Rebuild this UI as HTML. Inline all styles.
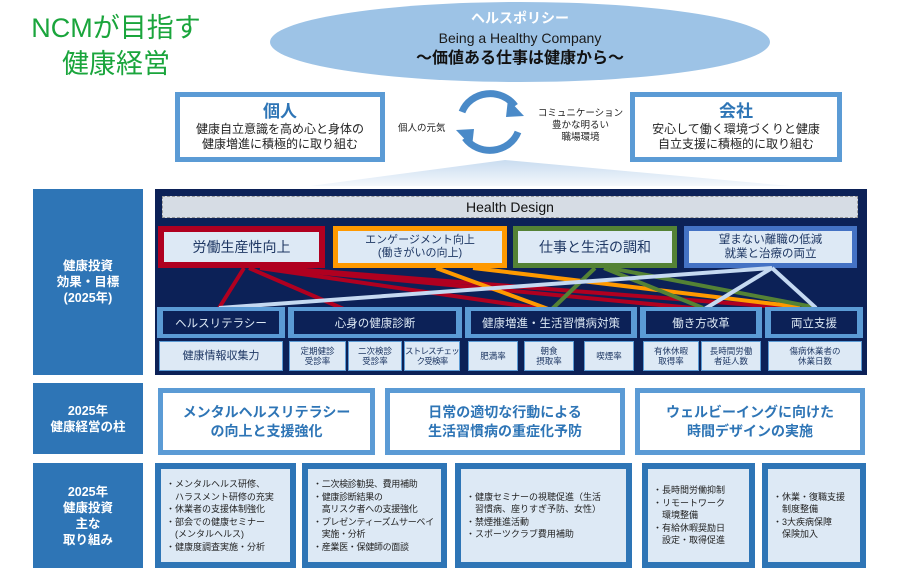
<!DOCTYPE html>
<html><head><meta charset="utf-8"><style>
*{margin:0;padding:0;box-sizing:border-box}
body{width:900px;height:573px;background:#fff;position:relative;overflow:hidden;font-family:"Liberation Sans","Noto Sans CJK JP",sans-serif}
.a{position:absolute}
.c{display:flex;align-items:center;justify-content:center;text-align:center}
.lb{background:#2e75b6;color:#fff;font-weight:bold;font-size:12.5px;line-height:16px}
.ob{background:#5b9bd5;padding:5px}
.in{background:#fff;width:100%;height:100%}
.cat{background:#5b9bd5;padding:4px 6px}
.cat div{background:#0c2157;color:#dde9f5;font-size:11.5px;width:100%;height:100%}
.m{background:#dde9f5;border:1px solid #5b9bd5;color:#1f3864;font-size:8.5px;line-height:10.5px;white-space:nowrap}
.r3{background:#2e75b6;padding:6px}
.r3 div{background:#dde9f5;width:100%;height:100%;font-size:9px;line-height:12.5px;color:#222;display:flex;flex-direction:column;justify-content:center;padding-left:5px;white-space:nowrap}
</style></head><body>
<div class="a" style="left:16px;top:10px;color:#1aa53c;font-size:27px;line-height:36px;width:200px;text-align:center">NCMが目指す<br>健康経営</div>
<svg class="a" style="left:0;top:0" width="900" height="573">
<defs><linearGradient id="g" x1="0" y1="0" x2="0" y2="1"><stop offset="0" stop-color="#c9dcf0"/><stop offset="1" stop-color="#f4f8fc"/></linearGradient></defs>
<ellipse cx="520" cy="42" rx="250" ry="40" fill="#9dc3e6"/>
<polygon points="505,160 310,186 790,186" fill="url(#g)"/>
<path d="M462,112 A30,28 0 0 1 515,106" fill="none" stroke="#4a8ac8" stroke-width="7"/>
<polygon points="508,99 524,116 506,117" fill="#4a8ac8"/>
<path d="M518,132 A30,28 0 0 1 465,138" fill="none" stroke="#4a8ac8" stroke-width="7"/>
<polygon points="472,147 456,130 474,129" fill="#4a8ac8"/>
</svg>
<div class="a c" style="left:270px;top:8px;width:500px;flex-direction:column;color:#fff">
<div style="font-size:14px;font-weight:bold;line-height:20px">ヘルスポリシー</div>
<div style="font-size:14px;color:#1a1a1a;line-height:20px">Being a Healthy Company</div>
<div style="font-size:16px;font-weight:bold;color:#111;line-height:22px">～価値ある仕事は健康から～</div></div>
<div class="a ob" style="left:175px;top:92px;width:210px;height:70px"><div class="in c" style="flex-direction:column;font-size:12px;line-height:15px;color:#222"><div style="color:#2e75b6;font-size:17px;font-weight:bold;line-height:20px">個人</div>健康自立意識を高め心と身体の<br>健康増進に積極的に取り組む</div></div>
<div class="a ob" style="left:630px;top:92px;width:212px;height:70px"><div class="in c" style="flex-direction:column;font-size:12px;line-height:15px;color:#222"><div style="color:#2e75b6;font-size:17px;font-weight:bold;line-height:20px">会社</div>安心して働く環境づくりと健康<br>自立支援に積極的に取り組む</div></div>
<div class="a" style="left:398px;top:120px;font-size:9.5px;color:#222">個人の元気</div>
<div class="a" style="left:533px;top:108px;width:95px;text-align:center;font-size:9.5px;line-height:12px;color:#222">コミュニケーション<br>豊かな明るい<br>職場環境</div>

<div class="a c lb" style="left:33px;top:189px;width:110px;height:186px">健康投資<br>効果・目標<br>(2025年)</div>
<div class="a c lb" style="left:33px;top:383px;width:110px;height:71px">2025年<br>健康経営の柱</div>
<div class="a c lb" style="left:33px;top:463px;width:110px;height:105px">2025年<br>健康投資<br>主な<br>取り組み</div>

<div class="a" style="left:155px;top:189px;width:712px;height:186px;background:#0c2157"></div>
<div class="a c" style="left:162px;top:196px;width:696px;height:22px;background:#d6dce4;border:1px dashed #999;font-size:14px;color:#111">Health Design</div>
<div class="a" style="left:158px;top:226px;width:167px;height:42px;background:#b00020;padding:6px"><div class="c" style="background:#dde9f5;height:100%;font-size:14px;color:#1f3864">労働生産性向上</div></div>
<div class="a" style="left:333px;top:226px;width:174px;height:42px;background:#ff9900;padding:5px"><div class="c" style="background:#dde9f5;height:100%;font-size:11px;line-height:13px;color:#1f3864">エンゲージメント向上<br>(働きがいの向上)</div></div>
<div class="a" style="left:513px;top:226px;width:164px;height:42px;background:#548235;padding:5px"><div class="c" style="background:#dde9f5;height:100%;font-size:14px;color:#1f3864">仕事と生活の調和</div></div>
<div class="a" style="left:684px;top:226px;width:173px;height:42px;background:#4472c4;padding:5px"><div class="c" style="background:#dde9f5;height:100%;font-size:11.5px;line-height:14px;color:#1f3864">望まない離職の低減<br>就業と治療の両立</div></div>
<svg class="a" style="left:0;top:0" width="900" height="573">
<g stroke-width="4" fill="none">
<line x1="244" y1="268" x2="219" y2="308" stroke="#b00020"/>
<line x1="249" y1="268" x2="353" y2="313" stroke="#b00020"/>
<line x1="260" y1="268" x2="551" y2="310" stroke="#b00020"/>
<line x1="270" y1="268" x2="703" y2="309" stroke="#b00020"/>
<line x1="280" y1="268" x2="804" y2="309" stroke="#b00020"/>
<line x1="436" y1="268" x2="551" y2="310" stroke="#ff9900"/>
<line x1="473" y1="268" x2="800" y2="307" stroke="#ff9900"/>
<line x1="595" y1="268" x2="551" y2="310" stroke="#548235"/>
<line x1="604" y1="268" x2="703" y2="308" stroke="#548235"/>
<line x1="610" y1="268" x2="813" y2="307" stroke="#548235"/>
<line x1="772" y1="268" x2="219" y2="308" stroke="#c5d9f1"/>
<line x1="772" y1="268" x2="703" y2="310" stroke="#c5d9f1"/>
<line x1="772" y1="268" x2="816" y2="308" stroke="#c5d9f1"/>
</g></svg>
<div class="a cat" style="left:157px;top:307px;width:128px;height:31px"><div class="c">ヘルスリテラシー</div></div>
<div class="a cat" style="left:288px;top:307px;width:174px;height:31px"><div class="c">心身の健康診断</div></div>
<div class="a cat" style="left:465px;top:307px;width:172px;height:31px"><div class="c">健康増進・生活習慣病対策</div></div>
<div class="a cat" style="left:640px;top:307px;width:122px;height:31px"><div class="c">働き方改革</div></div>
<div class="a cat" style="left:765px;top:307px;width:98px;height:31px"><div class="c">両立支援</div></div>
<div class="a c m" style="left:159px;top:341px;width:124px;height:30px;font-size:11px">健康情報収集力</div>
<div class="a c m" style="left:289px;top:341px;width:57px;height:30px">定期健診<br>受診率</div>
<div class="a c m" style="left:348px;top:341px;width:54px;height:30px">二次検診<br>受診率</div>
<div class="a c m" style="left:404px;top:341px;width:56px;height:30px;letter-spacing:-0.8px">ストレスチェッ<br>ク受検率</div>
<div class="a c m" style="left:468px;top:341px;width:50px;height:30px">肥満率</div>
<div class="a c m" style="left:524px;top:341px;width:50px;height:30px">朝食<br>摂取率</div>
<div class="a c m" style="left:584px;top:341px;width:50px;height:30px">喫煙率</div>
<div class="a c m" style="left:643px;top:341px;width:56px;height:30px">有休休暇<br>取得率</div>
<div class="a c m" style="left:701px;top:341px;width:60px;height:30px">長時間労働<br>者延人数</div>
<div class="a c m" style="left:768px;top:341px;width:94px;height:30px">傷病休業者の<br>休業日数</div>

<div class="a ob" style="left:158px;top:388px;width:217px;height:67px"><div class="in c" style="color:#2e75b6;font-weight:bold;font-size:14px;line-height:19px">メンタルヘルスリテラシー<br>の向上と支援強化</div></div>
<div class="a ob" style="left:385px;top:388px;width:240px;height:67px"><div class="in c" style="color:#2e75b6;font-weight:bold;font-size:14px;line-height:19px">日常の適切な行動による<br>生活習慣病の重症化予防</div></div>
<div class="a ob" style="left:635px;top:388px;width:230px;height:67px"><div class="in c" style="color:#2e75b6;font-weight:bold;font-size:14px;line-height:19px">ウェルビーイングに向けた<br>時間デザインの実施</div></div>

<div class="a r3" style="left:155px;top:463px;width:141px;height:105px"><div>・メンタルヘルス研修、<br>　ハラスメント研修の充実<br>・休業者の支援体制強化<br>・部会での健康セミナー<br>　(メンタルヘルス)<br>・健康度調査実施・分析</div></div>
<div class="a r3" style="left:302px;top:463px;width:145px;height:105px"><div style="letter-spacing:-0.3px">・二次検診勧奨、費用補助<br>・健康診断結果の<br>　高リスク者への支援強化<br>・プレゼンティーズムサーベイ<br>　実施・分析<br>・産業医・保健師の面談</div></div>
<div class="a r3" style="left:455px;top:463px;width:177px;height:105px"><div>・健康セミナーの視聴促進（生活<br>　習慣病、座りすぎ予防、女性）<br>・禁煙推進活動<br>・スポーツクラブ費用補助</div></div>
<div class="a r3" style="left:642px;top:463px;width:113px;height:105px"><div>・長時間労働抑制<br>・リモートワーク<br>　環境整備<br>・有給休暇奨励日<br>　設定・取得促進</div></div>
<div class="a r3" style="left:762px;top:463px;width:104px;height:105px"><div>・休業・復職支援<br>　制度整備<br>・3大疾病保障<br>　保険加入</div></div>
</body></html>
